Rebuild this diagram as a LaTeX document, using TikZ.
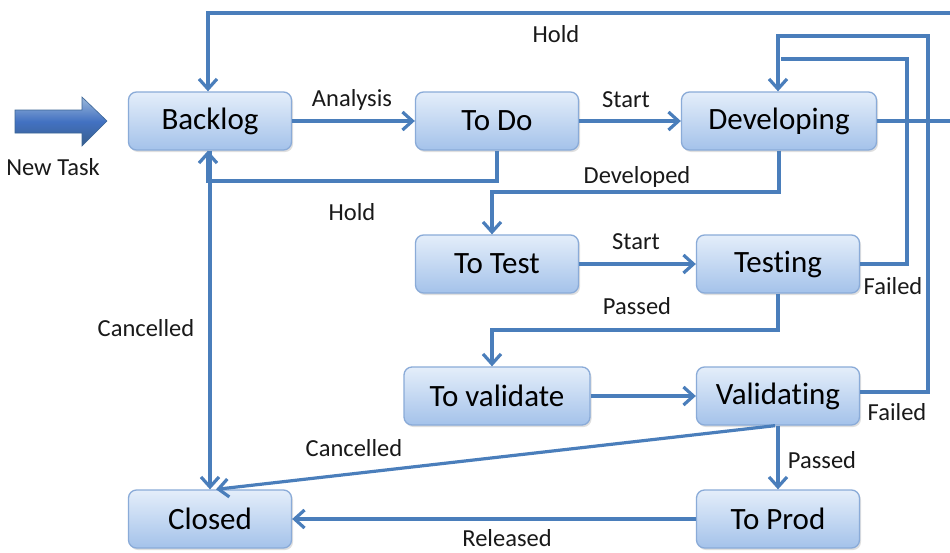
\documentclass[tikz,border=0pt]{standalone}
\usepackage{fontspec}
\setmainfont{Carlito}[Ligatures=CommonOff]
\usetikzlibrary{arrows.meta,shadows,calc}
\definecolor{flow}{HTML}{4A7EBB}
\definecolor{boxtop}{HTML}{E4EEFA}
\definecolor{boxbot}{HTML}{A4C2EA}
\definecolor{boxline}{HTML}{8AABD8}
\tikzset{
  state/.style={rounded corners=8, draw=boxline, line width=1.3,
    top color=boxtop, bottom color=boxbot,
    drop shadow={opacity=0.25, shadow xshift=1.5pt, shadow yshift=-2pt},
    minimum width=163, minimum height=58, inner sep=0,
    font=\fontsize{31}{33}\selectfont, text=black},
  flowline/.style={draw=flow, line width=3.2},
  arr/.style={flowline, -{Straight Barb[length=10,width=18,line width=3.2]}},
  lbl/.style={font=\fontsize{24.5}{26}\selectfont, text=black!90, inner sep=0}
}
\begin{document}
\begin{tikzpicture}[x=1pt,y=-1pt]
\useasboundingbox (0,0) rectangle (950,552);
\fill[white] (0,0) rectangle (950,552);

% states
\node[state] (backlog) at (210,121) {Backlog};
\node[state] (todo) at (497,121) {To Do};
\node[state, minimum width=195] (dev) at (779,121) {Developing};
\node[state] (totest) at (497,264) {To Test};
\node[state] (testing) at (778,264) {Testing};
\node[state, minimum width=186] (toval) at (497,396) {To validate};
\node[state] (valid) at (778,396) {Validating};
\node[state] (closed) at (210,519) {Closed};
\node[state] (toprod) at (778,519) {To Prod};

% entry arrow
\shade[top color=flow!55!white, bottom color=flow!75!black, middle color=flow!90!blue, draw=flow!80!black, line width=0.6]
  (15,110) -- (82,110) -- (82,97) -- (107,121) -- (82,146) -- (82,133) -- (15,133) -- cycle;
\node[lbl] (newtask) at (53,167) {New Task};

% routing points
\coordinate (far) at (953,121);
\coordinate (fartop) at (953,13);
\coordinate (blTop) at (208,13);
\coordinate (holdA) at (497,181);
\coordinate (holdB) at (208,181);
\coordinate (devA) at (779,192);
\coordinate (devB) at (492,192);
\coordinate (tstA) at (907,264);
\coordinate (tstB) at (907,59);
\coordinate (tstC) at (781,59);
\coordinate (valA) at (928,392);
\coordinate (valB) at (928,36);
\coordinate (valC) at (778,36);
\coordinate (pasA) at (778,330);
\coordinate (pasB) at (492,330);

% forward flow
\draw[arr] (backlog) -- (todo);
\draw[arr] (todo) -- (dev);
\draw[arr] (totest) -- (testing);
\draw[arr] (toval) -- (valid);
\draw[arr] (dev.south) -- (devA) -- (devB) -- (devB |- totest.north);
\draw[arr] (testing.south) -- (pasA) -- (pasB) -- (pasB |- toval.north);
\draw[arr] (valid.south) -- (toprod.north);
\draw[arr] (toprod) -- (closed);

% returns to backlog
\draw[arr] (dev.east) -- (far) -- (fartop) -- (blTop) -- (blTop |- backlog.north);
\draw[arr] (todo.south) -- (holdA) -- (holdB) -- (holdB |- backlog.south);

% failures back to development
\draw[flowline] (testing.east |- tstA) -- (tstA) -- (tstB) -- (tstC);
\draw[arr] (valid.east |- valA) -- (valA) -- (valB) -- (valC) -- (valC |- dev.north);

% cancellations
\draw[arr] (backlog.south) -- (closed.north);
\draw[arr] ($(valid.south)+(-3,0)$) -- ($(closed.north)+(6,0)$);

% labels
\node[lbl] (lAnalysis) at (352,100) {Analysis};
\node[lbl] (lStart1) at (626,100) {Start};
\node[lbl] (lHold1) at (556,34) {Hold};
\node[lbl] (lHold2) at (352,212) {Hold};
\node[lbl] (lDev) at (637,177) {Developed};
\node[lbl] (lStart2) at (636,242) {Start};
\node[lbl] (lFail1) at (893,286) {Failed};
\node[lbl] (lPass1) at (637,306) {Passed};
\node[lbl] (lFail2) at (897,412) {Failed};
\node[lbl] (lCanc1) at (146,328) {Cancelled};
\node[lbl] (lCanc2) at (354,448) {Cancelled};
\node[lbl] (lPass2) at (822,460) {Passed};
\node[lbl] (lRel) at (507,538) {Released};
\end{tikzpicture}
\end{document}
